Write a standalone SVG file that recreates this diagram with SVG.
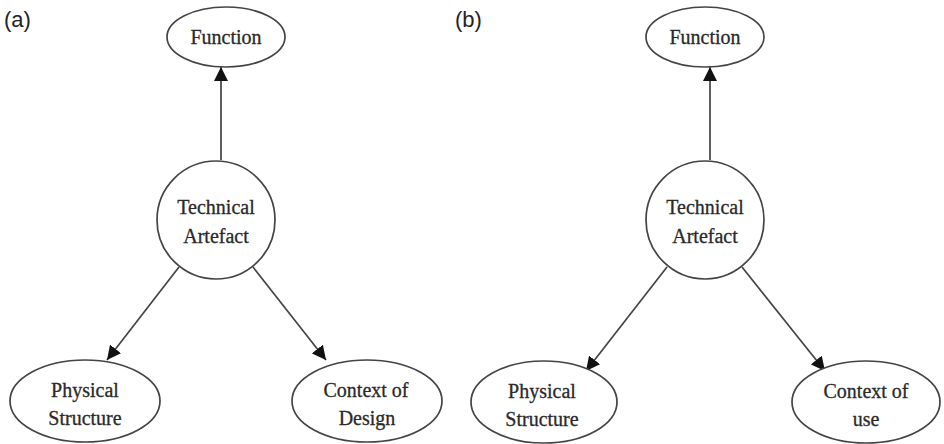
<svg xmlns="http://www.w3.org/2000/svg" width="944" height="444" viewBox="0 0 944 444">
<defs>
<marker id="ah" viewBox="0 0 10 10" refX="10" refY="5" markerWidth="14" markerHeight="14" markerUnits="userSpaceOnUse" orient="auto">
<path d="M0,0 L10,5 L0,10 z" fill="#111"/>
</marker>
<style>
.n{fill:#fff;stroke:#444;stroke-width:1.7}
.t{font-family:"Liberation Serif","Times New Roman",serif;font-size:20px;fill:#2a2a2a;stroke:#2a2a2a;stroke-width:0.3;text-anchor:middle}
.p{font-family:"Liberation Sans",Arial,sans-serif;font-size:22px;fill:#222}
.c{stroke:#444;stroke-width:1.7;fill:none;marker-end:url(#ah)}
</style>
</defs>
<rect width="944" height="444" fill="#fff"/>
<text class="p" x="4" y="27">(a)</text>
<text class="p" x="455" y="27">(b)</text>
<g id="connectors">
<line class="c" x1="221" y1="160" x2="221" y2="67"/>
<line class="c" x1="179" y1="267" x2="107" y2="360"/>
<line class="c" x1="253" y1="267" x2="326" y2="360"/>
<line class="c" x1="710" y1="160" x2="710" y2="67"/>
<line class="c" x1="667" y1="267" x2="586" y2="371"/>
<line class="c" x1="742" y1="267" x2="825" y2="371"/>
</g>
<g id="a-function">
<ellipse class="n" cx="226" cy="37" rx="59" ry="30"/>
<text class="t" x="226" y="44">Function</text>
</g>
<g id="a-artefact">
<circle class="n" cx="216" cy="220" r="59"/>
<text class="t" x="216" y="214">Technical</text>
<text class="t" x="216" y="243">Artefact</text>
</g>
<g id="a-physical">
<ellipse class="n" cx="85" cy="401" rx="75" ry="41"/>
<text class="t" x="85" y="397">Physical</text>
<text class="t" x="85" y="425">Structure</text>
</g>
<g id="a-context">
<ellipse class="n" cx="367" cy="401" rx="75" ry="41"/>
<text class="t" x="366" y="397">Context of</text>
<text class="t" x="367" y="425">Design</text>
</g>
<g id="b-function">
<ellipse class="n" cx="705" cy="37" rx="59" ry="30"/>
<text class="t" x="705" y="44">Function</text>
</g>
<g id="b-artefact">
<circle class="n" cx="705" cy="220" r="59"/>
<text class="t" x="705" y="214">Technical</text>
<text class="t" x="705" y="243">Artefact</text>
</g>
<g id="b-physical">
<ellipse class="n" cx="544" cy="402" rx="73" ry="41"/>
<text class="t" x="542" y="398">Physical</text>
<text class="t" x="542" y="426">Structure</text>
</g>
<g id="b-context">
<ellipse class="n" cx="866" cy="402" rx="74" ry="41"/>
<text class="t" x="866" y="398">Context of</text>
<text class="t" x="866" y="426">use</text>
</g>
</svg>
